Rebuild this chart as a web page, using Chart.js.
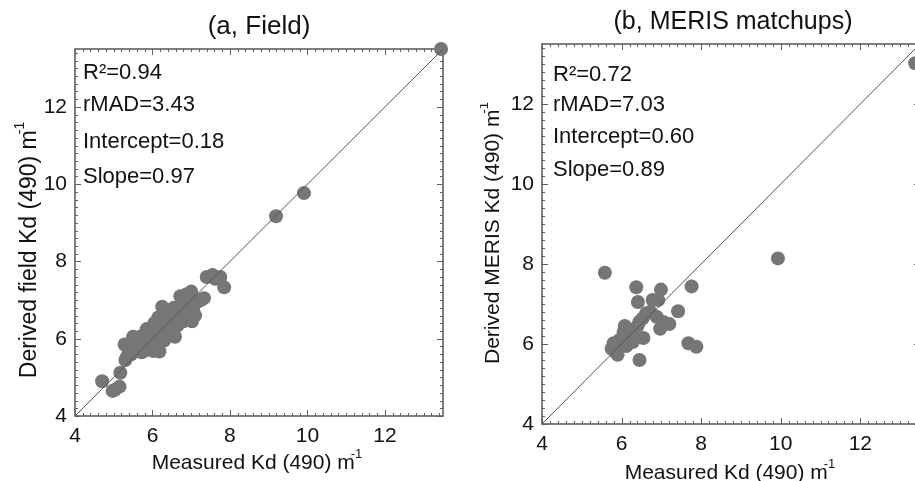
<!DOCTYPE html>
<html>
<head>
<meta charset="utf-8">
<script src="https://cdn.jsdelivr.net/npm/chart.js@4.4.1/dist/chart.umd.min.js"></script>
<style>
    html, body { margin: 0; padding: 0; background: #fff; overflow: hidden; }
    body { width: 915px; height: 481px; position: relative; }
    canvas { position: absolute; top: 0; }
    #fieldChart { left: 0; }
    #merisChart { left: 480px; }
</style>
</head>
<body>
<canvas id="fieldChart" width="460" height="481"></canvas>
<canvas id="merisChart" width="460" height="481"></canvas>
<script>
const FONT = '"Liberation Sans", Arial, sans-serif';
const INK = '#111111';
const DOT = '#767676';
const FRAME = '#5f5f5f';

// shared axes
const axisMin = 4;
const axisMax = 13.5;
const majorTicks = [4, 6, 8, 10, 12];
const minorStep = 0.2;
const oneToOne = [4, 13.5];

// (a) field data
const fieldX = [4.70, 4.97, 5.03, 5.15, 5.17, 5.30, 5.35, 5.28, 5.40, 5.45, 5.50, 5.55, 5.55, 5.60, 5.62,
    5.68, 5.70, 5.72, 5.75, 5.78, 5.80, 5.82, 5.85, 5.88, 5.90, 5.92, 5.95, 5.98, 6.00, 6.02,
    6.05, 6.08, 6.10, 6.12, 6.15, 6.18, 6.20, 6.22, 6.25, 6.25, 6.28, 6.30, 6.32, 6.35, 6.38,
    6.40, 6.42, 6.45, 6.48, 6.50, 6.55, 6.58, 6.60, 6.62, 6.65, 6.70, 6.72, 6.75, 6.80, 6.85,
    6.88, 6.90, 6.95, 7.00, 7.02, 7.05, 7.10, 7.15, 7.25, 7.33, 7.40, 7.55, 7.62, 7.75, 7.85,
    5.50, 5.85, 6.05, 6.15, 6.35, 6.55, 5.45, 9.19, 9.91, 13.45];
const fieldY = [4.90, 4.65, 4.68, 4.76, 5.12, 5.45, 5.55, 5.85, 5.72, 5.90, 5.65, 5.80, 6.00, 5.70, 5.92,
    6.05, 5.80, 5.65, 5.95, 6.10, 5.85, 5.70, 6.00, 6.15, 5.90, 5.75, 6.05, 6.20, 5.95, 5.68,
    6.10, 6.25, 6.00, 5.85, 6.15, 5.67, 6.35, 6.05, 6.83, 6.50, 6.20, 5.95, 6.40, 6.60, 6.25,
    6.10, 6.45, 6.70, 6.35, 6.55, 6.20, 6.05, 6.45, 6.65, 6.35, 6.55, 7.10, 6.75, 6.45, 6.65,
    7.15, 6.85, 6.55, 7.22, 6.45, 6.75, 6.60, 6.95, 7.00, 7.05, 7.60, 7.65, 7.55, 7.60, 7.33,
    6.05, 6.25, 6.40, 6.55, 6.75, 6.80, 5.60, 9.17, 9.77, 13.50];
const fieldStats = ['R²=0.94', 'rMAD=3.43', 'Intercept=0.18', 'Slope=0.97'];

// (b) MERIS matchups
const merisX = [5.58, 6.37, 6.99, 7.76, 6.41, 6.78, 6.92, 9.93, 7.42, 6.62, 6.72, 6.53, 6.45, 6.88,
    6.97, 7.05, 7.20, 6.08, 6.05, 6.25, 6.20, 6.34, 6.15, 6.55, 5.95, 5.80, 5.75, 5.90, 5.85,
    6.12, 6.28, 6.45, 7.68, 7.88, 6.40, 13.38];
const merisY = [7.78, 7.42, 7.36, 7.44, 7.05, 7.10, 7.10, 8.14, 6.82, 6.77, 6.80, 6.64, 6.56, 6.68,
    6.38, 6.55, 6.50, 6.45, 6.30, 6.35, 6.25, 6.14, 6.18, 6.15, 6.10, 6.02, 5.88, 5.73, 5.80,
    5.95, 6.05, 5.60, 6.02, 5.93, 6.45, 13.02];
const merisStats = ['R²=0.72', 'rMAD=7.03', 'Intercept=0.60', 'Slope=0.89'];

function drawSup(ctx, base, sup, size) {
    // draws "base" followed by a raised small "sup", centred on (0, 0)
    ctx.font = `${size}px ${FONT}`;
    const bw = ctx.measureText(base).width;
    ctx.font = `${Math.round(size * 0.6)}px ${FONT}`;
    const sw = ctx.measureText(sup).width;
    const start = -(bw + sw - 4) / 2;
    ctx.textAlign = 'left';
    ctx.textBaseline = 'middle';
    ctx.font = `${size}px ${FONT}`;
    ctx.fillText(base, start, 0);
    ctx.font = `${Math.round(size * 0.6)}px ${FONT}`;
    ctx.fillText(sup, start + bw - 4, -size * 0.42);
}

const matlabFrame = {
    id: 'matlabFrame',
    beforeDatasetsDraw(chart) {
        const { ctx, chartArea: a, scales: { x, y } } = chart;
        ctx.save();
        ctx.strokeStyle = FRAME;
        ctx.lineWidth = 1;
        const n = Math.floor((axisMax - axisMin) / minorStep + 1e-6);
        for (let i = 0; i <= n; i++) {
            const v = axisMin + i * minorStep;
            const major = majorTicks.some((t) => Math.abs(t - v) < 1e-6);
            const len = major ? 6 : 3;
            const px = Math.round(x.getPixelForValue(v)) + 0.5;
            const py = Math.round(y.getPixelForValue(v)) + 0.5;
            ctx.beginPath();
            ctx.moveTo(px, a.bottom); ctx.lineTo(px, a.bottom - len);
            ctx.moveTo(px, a.top); ctx.lineTo(px, a.top + len);
            ctx.moveTo(a.left, py); ctx.lineTo(a.left + len, py);
            ctx.moveTo(a.right, py); ctx.lineTo(a.right - len, py);
            ctx.stroke();
        }
        ctx.lineWidth = 1.6;
        ctx.strokeRect(a.left, a.top, a.right - a.left, a.bottom - a.top);
        ctx.restore();
    },
    afterDraw(chart, args, o) {
        const { ctx } = chart;
        ctx.save();
        ctx.fillStyle = INK;

        ctx.font = `${o.titleSize}px ${FONT}`;
        ctx.textAlign = 'center';
        ctx.textBaseline = 'middle';
        ctx.fillText(o.title, o.titleX, o.titleY);

        ctx.font = `${o.statsSize}px ${FONT}`;
        ctx.textAlign = 'left';
        o.stats.forEach((s, i) => ctx.fillText(s, o.statsX, o.statsY[i]));

        ctx.save();
        ctx.translate(o.xTitleX, o.xTitleY);
        drawSup(ctx, o.xTitle, '-1', o.xTitleSize);
        ctx.restore();

        ctx.save();
        ctx.translate(o.yTitleX, o.yTitleY);
        ctx.rotate(-Math.PI / 2);
        drawSup(ctx, o.yTitle, '-1', o.yTitleSize);
        ctx.restore();

        ctx.restore();
    },
};

function makeChart(canvas, xs, ys, frame) {
    const axis = (extra) => ({
        type: 'linear',
        min: axisMin,
        max: axisMax,
        afterBuildTicks: (s) => { s.ticks = majorTicks.map((v) => ({ value: v })); },
        grid: { drawOnChartArea: false, drawTicks: false },
        border: { display: false },
        ...extra,
    });

    return new Chart(canvas, {
        type: 'scatter',
        data: {
            datasets: [
                {
                    data: oneToOne.map((v) => ({ x: v, y: v })),
                    showLine: true,
                    borderColor: '#555555',
                    borderWidth: 1,
                    pointRadius: 0,
                    fill: false,
                },
                {
                    data: xs.map((v, i) => ({ x: v, y: ys[i] })),
                    backgroundColor: DOT,
                    borderWidth: 0,
                    pointRadius: 7,
                    clip: false,
                },
            ],
        },
        options: {
            responsive: false,
            animation: false,
            events: [],
            layout: { padding: { top: frame.top, right: frame.right, left: 0, bottom: 0 } },
            plugins: {
                legend: { display: false },
                tooltip: { enabled: false },
                matlabFrame: frame.text,
            },
            scales: {
                x: axis({
                    ticks: { color: INK, font: { family: FONT, size: 21 }, padding: 8, maxRotation: 0 },
                    afterFit: (s) => { s.height = frame.bottom; },
                }),
                y: axis({
                    ticks: { color: INK, font: { family: FONT, size: 21 }, padding: 8 },
                    afterFit: (s) => { s.width = frame.left; },
                }),
            },
        },
        plugins: [matlabFrame],
    });
}

makeChart(document.getElementById('fieldChart'), fieldX, fieldY, {
    left: 75, top: 49, right: 17, bottom: 65,
    text: {
        title: '(a, Field)', titleX: 259, titleY: 27, titleSize: 26,
        stats: fieldStats, statsX: 83, statsY: [73, 105, 142, 177], statsSize: 22,
        xTitle: 'Measured Kd (490) m', xTitleX: 257, xTitleY: 463, xTitleSize: 21,
        yTitle: 'Derived field Kd (490) m', yTitleX: 30, yTitleY: 250, yTitleSize: 23,
    },
});

makeChart(document.getElementById('merisChart'), merisX, merisY, {
    left: 62, top: 44, right: 20, bottom: 57,
    text: {
        title: '(b, MERIS matchups)', titleX: 253, titleY: 22, titleSize: 25,
        stats: merisStats, statsX: 73, statsY: [75, 105, 137, 170], statsSize: 22,
        xTitle: 'Measured Kd (490) m', xTitleX: 250, xTitleY: 473, xTitleSize: 21,
        yTitle: 'Derived MERIS Kd (490) m', yTitleX: 13, yTitleY: 233, yTitleSize: 21,
    },
});
</script>
</body>
</html>
